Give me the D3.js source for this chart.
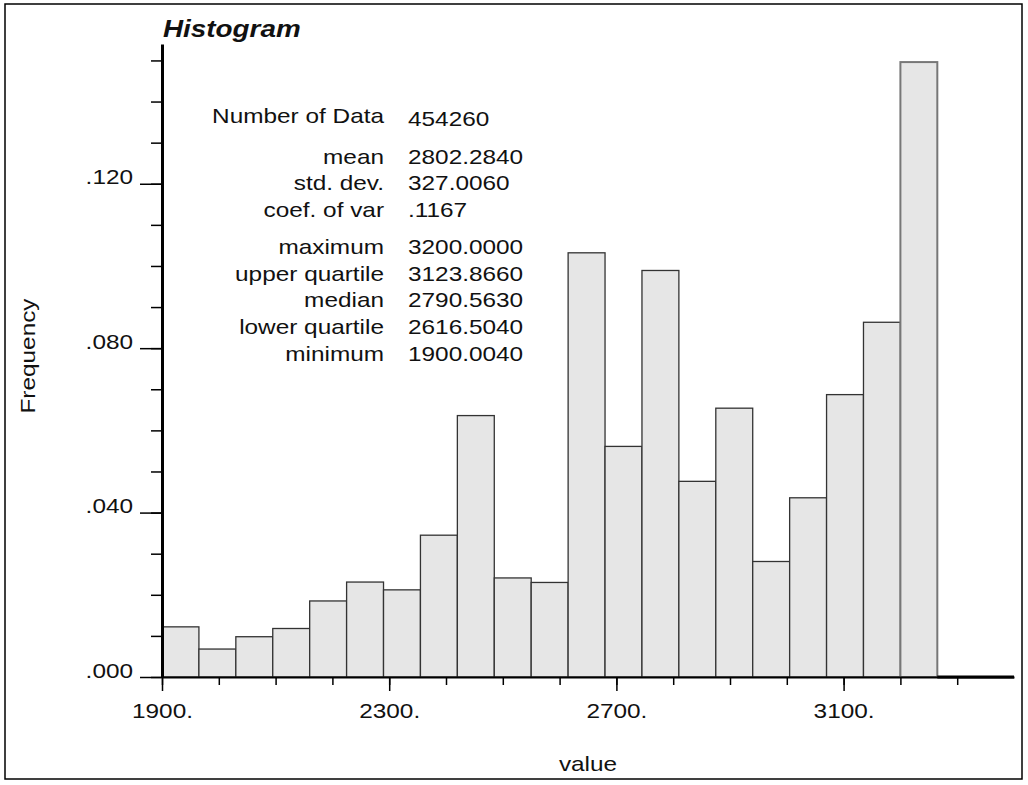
<!DOCTYPE html>
<html lang="en">
  <head>
    <meta charset="utf-8">
    <title>Histogram</title>
    <script src="https://d3js.org/d3.v7.min.js"></script>
  </head>
  <style>
    body {
      margin: 0;
      background: #fff;
    }
    text {
      font-family: "Liberation Sans", Arial, Helvetica, sans-serif;
      fill: #111;
    }
  </style>
  <body>
  <div id="chart"></div>
  <script>

  // histogram bins: first edge, bin width, relative frequency per bin
  var binStart = 1900;
  var binWidth = 65;
  var frequencies = [0.0122, 0.0068, 0.0098, 0.0118, 0.0185, 0.0231, 0.0212,
                     0.0345, 0.0636, 0.0241, 0.0230, 0.1032, 0.0561, 0.0989,
                     0.0476, 0.0654, 0.0281, 0.0436, 0.0687, 0.0863, 0.1496];

  var xTicksMajor = [1900, 2300, 2700, 3100];
  var xTicksMinor = d3.range(1900, 3301, 100);
  var yTicksMajor = [0, 0.04, 0.08, 0.12];
  var yTicksMinor = d3.range(0, 0.1501, 0.01);

  var statLabels = ["Number of Data", "mean", "std. dev.", "coef. of var",
                    "maximum", "upper quartile", "median", "lower quartile", "minimum"];
  var statValues = ["454260", "2802.2840", "327.0060", ".1167",
                    "3200.0000", "3123.8660", "2790.5630", "2616.5040", "1900.0040"];
  var statGroups = [0, 1, 1, 1, 2, 2, 2, 2, 2];

  var w = 1028;
  var h = 785;
  var stretch = 1.16;   // the plot font is wider than Arial

  var svg = d3.select("#chart")
    .append("svg")
    .attr("width", w)
    .attr("height", h);

  // outer frame
  svg.append("rect")
    .attr("x", 5)
    .attr("y", 4)
    .attr("width", 1017)
    .attr("height", 775)
    .attr("fill", "none")
    .attr("stroke", "#000")
    .attr("stroke-width", 1.5);

  var xScale = d3.scaleLinear()
    .domain([1900, 3400])
    .range([162, 1014]);

  var yScale = d3.scaleLinear()
    .domain([0, 0.154])
    .range([677, 44]);

  // text helper, stretched along the text direction
  function label(x, y, str, anchor, size, extra) {
    var g = svg.append("g")
      .attr("transform", `translate(${x},${y})` + (extra || "") + ` scale(${stretch},1)`);
    return g.append("text")
      .attr("text-anchor", anchor)
      .attr("font-size", size)
      .text(str);
  }

  // bars
  var bars = frequencies.map(function(f, i) {
    return {x0: binStart + i * binWidth, x1: binStart + (i + 1) * binWidth, f: f};
  });

  svg.selectAll("rect.bar").data(bars)
    .enter().append("rect")
    .attr("class", "bar")
    .attr("x", d => xScale(d.x0))
    .attr("width", d => xScale(d.x1) - xScale(d.x0))
    .attr("y", d => yScale(d.f))
    .attr("height", d => yScale(0) - yScale(d.f))
    .attr("fill", "#e6e6e6")
    .attr("stroke", (d, i) => i == bars.length - 1 ? "#777" : "#333")
    .attr("stroke-width", (d, i) => i == bars.length - 1 ? 2 : 1.3);

  // x axis
  var xMinor = d3.axisBottom(xScale).tickValues(xTicksMinor).tickSize(8).tickSizeOuter(0).tickFormat("");
  var xMajor = d3.axisBottom(xScale).tickValues(xTicksMajor).tickSize(14).tickSizeOuter(0)
    .tickFormat(d => d + ".");

  var gx = svg.append("g").attr("transform", `translate(0,${yScale(0)})`);
  gx.call(xMinor);
  gx.select(".domain").attr("stroke-width", 2);
  gx.selectAll(".tick line").attr("stroke-width", 1.5);

  var gx2 = svg.append("g").attr("transform", `translate(0,${yScale(0)})`);
  gx2.call(xMajor);
  gx2.select(".domain").remove();
  gx2.selectAll(".tick line").attr("stroke-width", 1.5);
  gx2.selectAll(".tick text")
    .attr("y", 41)
    .attr("dy", 0)
    .attr("font-size", 21)
    .attr("font-family", "Liberation Sans, Arial, sans-serif")
    .attr("fill", "#111")
    .attr("transform", `scale(${stretch},1)`);

  // empty range past the last bin
  svg.append("line")
    .attr("x1", xScale(binStart + frequencies.length * binWidth))
    .attr("x2", xScale(3400))
    .attr("y1", yScale(0))
    .attr("y2", yScale(0))
    .attr("stroke", "#000")
    .attr("stroke-width", 3);

  // y axis
  var yMinor = d3.axisLeft(yScale).tickValues(yTicksMinor).tickSize(11).tickSizeOuter(0).tickFormat("");
  var yMajor = d3.axisLeft(yScale).tickValues(yTicksMajor).tickSize(22).tickSizeOuter(0)
    .tickFormat(d => d3.format(".3f")(d).replace(/^0/, ""));

  var gy = svg.append("g").attr("transform", `translate(${xScale(1900)},0)`);
  gy.call(yMinor);
  gy.select(".domain").attr("stroke-width", 3);
  gy.selectAll(".tick line").attr("stroke-width", 1.5);

  var gy2 = svg.append("g").attr("transform", `translate(${xScale(1900)},0)`);
  gy2.call(yMajor);
  gy2.select(".domain").remove();
  gy2.selectAll(".tick line").attr("stroke-width", 1.5);
  gy2.selectAll(".tick text")
    .attr("x", -29 / stretch)
    .attr("dy", 0)
    .attr("font-size", 21)
    .attr("font-family", "Liberation Sans, Arial, sans-serif")
    .attr("fill", "#111")
    .attr("transform", `scale(${stretch},1)`);

  // titles
  label(163, 37, "Histogram", "start", 24)
    .attr("font-weight", "bold")
    .attr("font-style", "italic");
  label(588, 771, "value", "middle", 21);
  label(35, 356, "Frequency", "middle", 21, " rotate(-90)");

  // statistics block
  statLabels.forEach(function(s, i) {
    var y = 123 + i * 26.7 + [0, 14, 24][statGroups[i]];
    label(384, y, s, "end", 21);
    label(408, y + (i == 0 ? 3 : 0), statValues[i], "start", 21);
  });

  </script>
  </body>
</html>
